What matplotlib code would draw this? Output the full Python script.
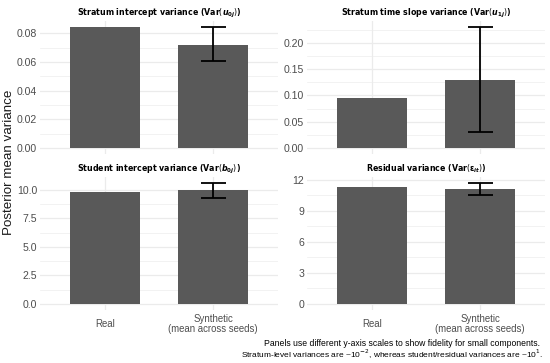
import matplotlib
matplotlib.use("Agg")
import matplotlib.pyplot as plt
from matplotlib.ticker import MultipleLocator, FormatStrFormatter

plt.rcParams['font.family'] = ['Liberation Sans', 'DejaVu Sans']

categories = ["Real", "Synthetic\n(mean across seeds)"]
titles = [r"Stratum intercept variance ($\mathbf{Var}(\boldsymbol{u}_{\mathbf{0}\boldsymbol{j}})$)",
          r"Stratum time slope variance ($\mathbf{Var}(\boldsymbol{u}_{\mathbf{1}\boldsymbol{j}})$)",
          r"Student intercept variance ($\mathbf{Var}(\boldsymbol{b}_{\mathbf{0}\boldsymbol{j}})$)",
          r"Residual variance ($\mathbf{Var}(\boldsymbol{\varepsilon}_{\boldsymbol{it}})$)"]
real_vals = [0.0842, 0.095, 9.82, 11.30]
synth_vals = [0.0721, 0.129, 9.94, 11.07]
synth_lo = [0.0604, 0.030, 9.30, 10.55]
synth_hi = [0.0844, 0.230, 10.59, 11.68]
major_steps = [0.02, 0.05, 2.5, 3]
tick_fmts = ['%.2f', '%.2f', '%.1f', '%d']
caption_lines = ["Panels use different y-axis scales to show fidelity for small components.",
                 r"Stratum-level variances are ~10$^{-2}$, whereas student/residual variances are ~10$^{1}$."]

W, H = 550, 363
fig = plt.figure(figsize=(W / 100, H / 100), dpi=100)
fig.patch.set_facecolor('white')

rects = [(40, 21, 278, 154), (307, 21, 545, 154), (40, 177, 278, 310), (307, 177, 545, 310)]
grid_c = '#EBEBEB'
for i, (x0, y0, x1, y1) in enumerate(rects):
    ax = fig.add_axes([x0 / W, 1 - y1 / H, (x1 - x0) / W, (y1 - y0) / H])
    pos = [0, 1]
    vals = [real_vals[i], synth_vals[i]]
    ax.bar(pos, vals, width=0.65, color='#595959', zorder=2)
    ax.errorbar([1], [synth_vals[i]],
                yerr=[[synth_vals[i] - synth_lo[i]], [synth_hi[i] - synth_vals[i]]],
                fmt='none', ecolor='black', elinewidth=1.3, capsize=9, capthick=1.3, zorder=3)
    top = max(max(vals), synth_hi[i])
    pad = top * 0.05
    ax.set_ylim(-pad, top + pad)
    ax.set_xlim(-0.6, 1.6)
    ax.yaxis.set_major_locator(MultipleLocator(major_steps[i]))
    ax.yaxis.set_minor_locator(MultipleLocator(major_steps[i] / 2))
    ax.yaxis.set_major_formatter(FormatStrFormatter(tick_fmts[i]))
    ax.grid(True, which='major', axis='both', color=grid_c, lw=0.9, zorder=0)
    ax.grid(True, which='minor', axis='y', color=grid_c, lw=0.45, zorder=0)
    ax.set_axisbelow(True)
    for s in ax.spines.values():
        s.set_visible(False)
    ax.tick_params(axis='y', which='both', length=0, pad=2, labelsize=7.6, labelcolor='#4D4D4D')
    if i >= 2:
        ax.set_xticks(pos, categories, va='center', linespacing=1.05)
        ax.tick_params(axis='x', length=0, pad=10, labelsize=6.9, labelcolor='#4D4D4D')
    else:
        ax.set_xticks(pos, ['', ''])
        ax.tick_params(axis='x', length=0)
    ax.set_title(titles[i], fontsize=5.7, fontweight='bold', pad=4, family=['DejaVu Sans'])

fig.text(9 / W, 1 - 162 / H, "Posterior mean variance", rotation=90, va='center', ha='center',
         fontsize=9.6, color='#1A1A1A')
fig.text(540 / W, 1 - 343 / H, caption_lines[0], ha='right', va='center', fontsize=6.2)
fig.text(543 / W, 1 - 354 / H, caption_lines[1], ha='right', va='center', fontsize=6.0)

fig.savefig("out.png", dpi=100, facecolor='white')
